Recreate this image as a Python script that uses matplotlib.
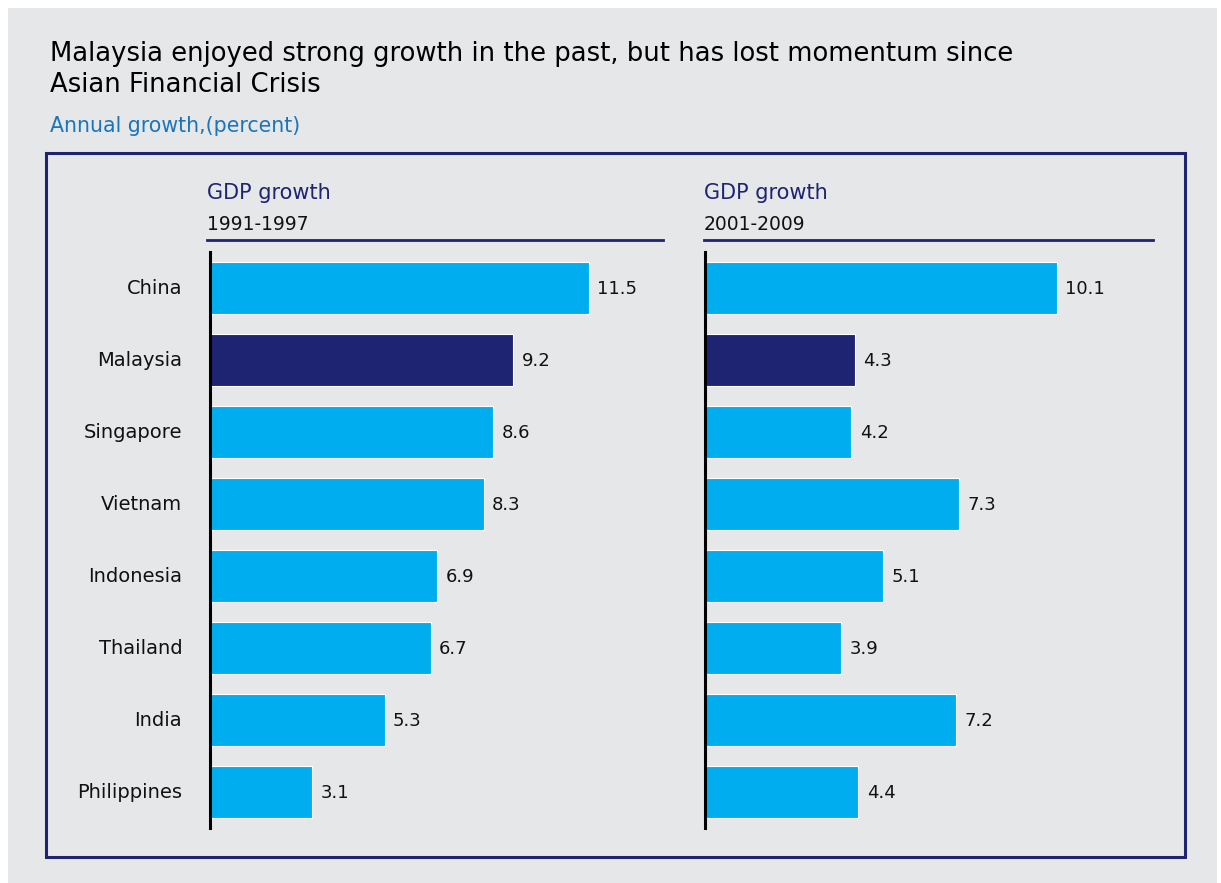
import matplotlib
matplotlib.use("Agg")
import matplotlib.pyplot as plt
from matplotlib.patches import Rectangle

countries = ["China", "Malaysia", "Singapore", "Vietnam", "Indonesia",
             "Thailand", "India", "Philippines"]
growth_1991_1997 = [11.5, 9.2, 8.6, 8.3, 6.9, 6.7, 5.3, 3.1]
growth_2001_2009 = [10.1, 4.3, 4.2, 7.3, 5.1, 3.9, 7.2, 4.4]
panel_titles = ["GDP growth", "GDP growth"]
panel_periods = ["1991-1997", "2001-2009"]
highlight = "Malaysia"

title_lines = ["Malaysia enjoyed strong growth in the past, but has lost momentum since",
               "Asian Financial Crisis"]
subtitle = "Annual growth,(percent)"

W, H = 1221, 883
BG = "#e6e7e8"
NAVY = "#1e2372"
CYAN = "#00aeef"
BLUE_TXT = "#1a75bb"
FONT = "DejaVu Sans"

plt.rcParams["font.family"] = [FONT]

fig = plt.figure(figsize=(W / 100, H / 100), dpi=100)
fig.patch.set_facecolor("white")


def fx(px):
    return px / W


def fy(py):
    return 1 - py / H


# grey card and navy frame
fig.patches.append(Rectangle((fx(8), fy(883)), fx(1217) - fx(8), fy(8) - fy(883),
                             transform=fig.transFigure, facecolor=BG,
                             edgecolor="none", zorder=-2))
fig.patches.append(Rectangle((fx(46), fy(857)), fx(1185) - fx(46), fy(153) - fy(857),
                             transform=fig.transFigure, facecolor="none",
                             edgecolor=NAVY, linewidth=2.2, zorder=-1))

for k, line in enumerate(title_lines):
    fig.text(fx(50), fy(61 + 31 * k), line, fontsize=18.6, color="black",
             ha="left", va="baseline")
fig.text(fx(50), fy(132), subtitle, fontsize=14.8, color=BLUE_TXT,
         ha="left", va="baseline")

panels = [
    (growth_1991_1997, 210, 663, 32.96, 207),
    (growth_2001_2009, 705, 1153, 34.85, 704),
]

top, bottom = 252, 828
for i, (vals, left, right, scale, line_left) in enumerate(panels):
    ax = fig.add_axes([fx(left), fy(bottom), fx(right) - fx(left), fy(top) - fy(bottom)])
    ax.set_facecolor("none")
    ax.set_xlim(0, (right - left) / scale)
    ax.set_ylim(len(countries) - 0.5, -0.5)
    colors = [NAVY if c == highlight else CYAN for c in countries]
    ax.barh(range(len(countries)), vals, height=0.72, color=colors,
            edgecolor="white", linewidth=0.8, zorder=2)
    for j, v in enumerate(vals):
        ax.annotate(f"{v:.1f}", xy=(v, j), xytext=(6, -1), textcoords="offset points",
                    ha="left", va="center", fontsize=13, color="#111111")
    for s in ["top", "right", "bottom"]:
        ax.spines[s].set_visible(False)
    ax.spines["left"].set_color("black")
    ax.spines["left"].set_linewidth(2.2)
    ax.spines["left"].set_zorder(3)
    ax.set_xticks([])
    ax.set_yticks(range(len(countries)))
    if i == 0:
        ax.set_yticklabels(countries, fontsize=14, color="#111111", va="center")
        ax.tick_params(axis="y", length=0, pad=20)
        for lab in ax.get_yticklabels():
            lab.set_y(lab.get_position()[1])
    else:
        ax.set_yticklabels([])
        ax.tick_params(axis="y", length=0)

    fig.text(fx(line_left), fy(199), panel_titles[i], fontsize=15, color=NAVY,
             ha="left", va="baseline")
    fig.text(fx(line_left), fy(230), panel_periods[i], fontsize=13.5, color="#111111",
             ha="left", va="baseline")
    fig.add_artist(plt.Line2D([fx(line_left), fx(right)], [fy(240), fy(240)],
                              transform=fig.transFigure, color=NAVY, linewidth=2))

fig.savefig("out.png", dpi=100, facecolor=fig.get_facecolor())
